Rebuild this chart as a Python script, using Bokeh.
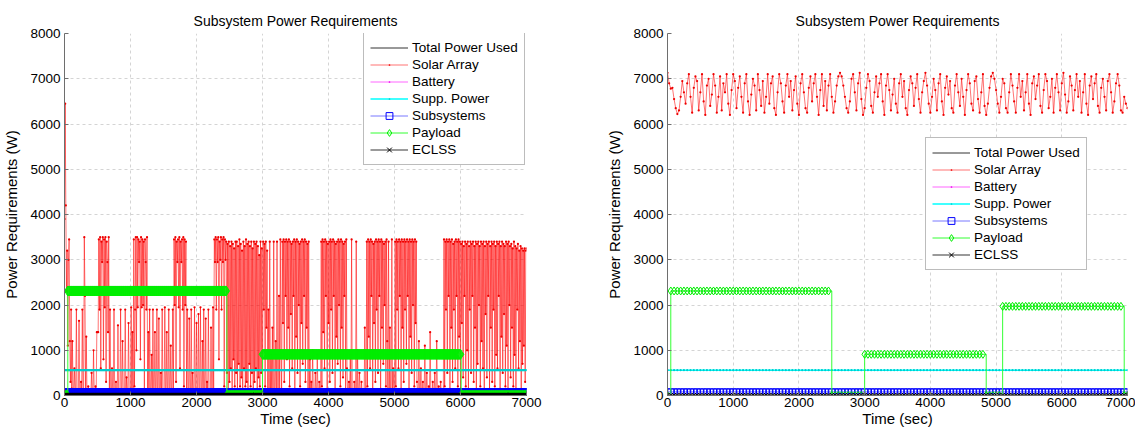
import numpy as np
from bokeh.plotting import figure
from bokeh.layouts import row
from bokeh.models import Legend, LegendItem, Range1d, FixedTicker
from bokeh.embed import file_html
from bokeh.resources import INLINE

# ---------------- data ----------------
title_text = "Subsystem Power Requirements"
x_label = "Time (sec)"
y_label = "Power Requirements (W)"
x_ticks = [0, 1000, 2000, 3000, 4000, 5000, 6000, 7000]
y_ticks = [0, 1000, 2000, 3000, 4000, 5000, 6000, 7000, 8000]

# left panel: solar array power, sampled every 10 s
step_left = 10
solar_left = [
    3900, 6450, 4200, 2300, 3200, 1100, 3000, 3450, 1200, 300,
    1900, 150, 1200, 80, 40, 600, 100, 60, 1900, 50,
    120, 60, 1650, 80, 40, 300, 60, 1900, 100, 40,
    3500, 2200, 60, 1300, 80, 40, 200, 60, 40, 100,
    60, 500, 40, 80, 1000, 60, 40, 200, 60, 1400,
    1400, 1400, 3450, 1900, 3500, 600, 3400, 2950, 3500, 800,
    3450, 1950, 3500, 300, 3400, 2950, 1400, 3500, 100, 1900,
    60, 40, 600, 100, 50, 1900, 80, 40, 300, 60,
    40, 1550, 60, 100, 40, 1900, 60, 40, 1200, 80,
    60, 40, 1900, 80, 400, 60, 40, 1600, 100, 60,
    40, 1950, 60, 1400, 80, 3450, 200, 1900, 3500, 1000,
    3500, 1950, 3450, 2950, 3400, 800, 3500, 1950, 3450, 2000,
    3400, 100, 3450, 2950, 1900, 3500, 60, 1400, 40, 1900,
    60, 40, 900, 80, 1900, 60, 40, 1400, 80, 60,
    1900, 40, 60, 1700, 80, 40, 500, 60, 1900, 100,
    40, 60, 1950, 80, 40, 1400, 60, 100, 1900, 40,
    60, 1100, 80, 40, 1900, 60, 3450, 2000, 3500, 300,
    3400, 2950, 3450, 1950, 3500, 600, 3400, 2950, 3450, 1900,
    3500, 200, 3450, 2000, 3400, 100, 1900, 60, 40, 1700,
    60, 40, 1900, 80, 500, 60, 40, 1950, 100, 60,
    1600, 40, 80, 1800, 60, 40, 1950, 100, 60, 1200,
    40, 1900, 60, 80, 1700, 40, 300, 60, 1900, 100,
    60, 40, 1500, 80, 60, 1950, 40, 3450, 2950, 3500,
    1900, 3450, 2950, 3500, 800, 3400, 3000, 3500, 1900, 3450,
    2950, 3500, 200, 3450, 3000, 3400, 500, 3350, 100, 3400,
    300, 3300, 600, 3400, 100, 3350, 800, 3250, 200, 3400,
    500, 3400, 100, 3300, 700, 3450, 200, 3350, 400, 3200,
    100, 3400, 600, 3300, 200, 3450, 300, 3350, 100, 3400,
    700, 3300, 200, 3400, 500, 3250, 100, 3400, 300, 3350,
    600, 3400, 100, 3300, 400, 3100, 200, 3400, 500, 3250,
    100, 3400, 1900, 3350, 200, 3400, 1500, 3200, 100, 1900,
    60, 3400, 40, 900, 60, 1500, 40, 3400, 80, 60,
    1200, 40, 3400, 60, 40, 2200, 80, 3450, 1000, 60,
    3400, 1600, 3450, 300, 3400, 2200, 3450, 800, 3400, 1500,
    3450, 200, 3400, 1800, 3350, 600, 3400, 2200, 3450, 100,
    3400, 1300, 3450, 500, 3400, 2000, 3350, 200, 3400, 1600,
    3450, 700, 3400, 2200, 3450, 300, 3400, 1500, 3350, 100,
    3400, 60, 800, 40, 300, 60, 1000, 40, 80, 60,
    500, 40, 60, 900, 40, 60, 300, 40, 80, 3400,
    200, 3450, 1400, 3400, 600, 3450, 2200, 3400, 100, 3350,
    1600, 3400, 300, 3450, 1900, 3400, 500, 3450, 2200, 3400,
    100, 3350, 1300, 3400, 700, 3450, 2000, 3400, 200, 3450,
    1500, 3400, 400, 3350, 2200, 3400, 100, 3450, 600, 60,
    40, 300, 60, 900, 40, 3450, 60, 80, 40, 300,
    60, 40, 3400, 60, 1000, 40, 80, 500, 40, 60,
    300, 40, 60, 80, 40, 1500, 60, 40, 3400, 200,
    3450, 1300, 3400, 600, 3450, 2200, 3400, 100, 3350, 1600,
    3400, 300, 3450, 1900, 3400, 500, 3450, 2200, 3400, 100,
    3450, 1500, 3400, 700, 3350, 2000, 3400, 200, 3450, 1200,
    60, 3400, 40, 1500, 60, 80, 3450, 40, 600, 60,
    40, 3400, 200, 3450, 1900, 3400, 600, 3450, 2200, 3400,
    100, 3450, 1500, 3400, 300, 3450, 1900, 3400, 700, 3450,
    2200, 3400, 100, 3450, 1300, 3400, 500, 3450, 2000, 3400,
    200, 3450, 1600, 3400, 300, 60, 40, 1200, 60, 40,
    600, 40, 60, 300, 40, 80, 1100, 40, 60, 500,
    40, 60, 200, 40, 1400, 60, 40, 80, 300, 40,
    60, 500, 40, 80, 1200, 60, 40, 200, 60, 40,
    300, 40, 60, 80, 40, 3450, 200, 3400, 1900, 3450,
    500, 3400, 2200, 3450, 100, 3400, 1500, 3450, 300, 3350,
    1900, 3400, 600, 3450, 2200, 3400, 200, 3450, 1300, 3400,
    100, 3350, 1600, 3400, 400, 3300, 2200, 3400, 200, 3350,
    1000, 3400, 100, 3300, 1900, 3400, 500, 3350, 2200, 3400,
    300, 3300, 1500, 3400, 100, 3350, 700, 3400, 2000, 3300,
    200, 3400, 1200, 3350, 600, 3400, 100, 3300, 1800, 3400,
    400, 3350, 2200, 3400, 100, 3300, 1500, 3400, 300, 3350,
    1900, 3400, 200, 3300, 900, 3400, 600, 3350, 2200, 3400,
    100, 3300, 1300, 3400, 500, 3350, 1800, 3300, 200, 3400,
    1100, 3350, 100, 3400, 2000, 3300, 400, 3350, 1500, 3250,
    200, 3400, 900, 3300, 100, 3250, 1900, 3350, 600, 3200,
    1200, 3300, 100, 3250, 700, 3200, 1100, 3250, 300, 3200,
    3250,
]

# right panel: solar array power, sampled every 25 s
step_right_solar = 25
solar_right = [
    7130, 6900, 6780, 6800, 6550, 6350, 6220, 6300, 6600, 6950,
    6700, 6450, 6900, 7100, 6600, 6250, 6800, 7050, 6950, 6300,
    6700, 7100, 6500, 6200, 6850, 7000, 6400, 6650, 7100, 6850,
    6250, 6600, 7050, 6300, 6900, 6700, 7100, 6450, 6200, 6750,
    7100, 6950, 6350, 6800, 7050, 6600, 6250, 6900, 7100, 6500,
    6200, 6650, 7000, 6850, 6300, 7100, 6750, 6400, 6950, 6250,
    6600, 7100, 6450, 6900, 7050, 6350, 6200, 6700, 7100, 6900,
    6500, 6250, 6850, 7100, 6600, 6950, 6300, 6750, 7050, 6450,
    6200, 6900, 7100, 6700, 6350, 6250, 6800, 7050, 6500, 6900,
    7100, 6600, 6200, 6750, 7100, 6400, 6950, 6300, 6850, 7100,
    6600, 6250, 6500, 6850, 7050, 7130, 7050, 6850, 6600, 6350,
    6250, 6500, 7000, 7100, 6700, 6300, 6900, 7130, 6550, 6200,
    6350, 6800, 7100, 6950, 6400, 6250, 6700, 7050, 6600, 6900,
    7100, 6500, 6200, 6850, 7100, 6750, 6300, 6650, 7000, 6450,
    6250, 6900, 7100, 6600, 6950, 6350, 6200, 6750, 7050, 6900,
    6400, 6800, 7100, 6550, 6250, 6700, 6950, 7130, 6850, 6450,
    6250, 6600, 7000, 6750, 6300, 6900, 7100, 6500, 6200, 6800,
    7050, 6650, 6950, 6350, 6250, 6850, 7100, 6700, 6400, 7000,
    6600, 6200, 6750, 7100, 6900, 6450, 6300, 6950, 7050, 6550,
    6250, 6700, 7100, 6400, 6200, 6450, 6800, 7050, 7130, 7000,
    6750, 6450, 6250, 6600, 7000, 6900, 6350, 6250, 6700, 7100,
    6850, 6500, 6250, 6800, 7100, 6600, 6950, 6300, 6700, 7100,
    6450, 6200, 6900, 7050, 6550, 6850, 7100, 6400, 6250, 6750,
    7100, 6950, 6350, 6600, 7000, 6250, 6800, 7100, 6700, 6300,
    6900, 7130, 6650, 6250, 6500, 7050, 6850, 6300, 6750, 7100,
    6600, 6950, 6250, 6700, 7100, 6450, 6200, 6850, 7050, 6550,
    6900, 7100, 6400, 6250, 6800, 7000, 6600, 6300, 6950, 7100,
    6700, 6250, 6500, 6900, 7100, 6850, 6300, 6250, 6600, 6450,
    6350,
]
step_right = 50
t_end = 7000

payload_left_edges = [0, 50, 2460, 3000, 6010]
payload_left_levels = [0, 2310, 0, 910, 0]
payload_right_edges = [0, 50, 2500, 3000, 4850, 5100, 6950]
payload_right_levels = [0, 2310, 0, 910, 0, 1970, 0]

total_used_level = 0
battery_level = 0
supp_power_level = 560
subsystems_level = 80
eclss_level = 10

FONT = "Liberation Sans"


def step_series(t, edges, levels):
    idx = np.searchsorted(np.array(edges), t, side="right") - 1
    return np.array(levels)[idx]


def make_panel(t_solar, solar, t_grid, pay_edges, pay_levels, width,
               border_left, border_right, legend_loc, diamond_size, square_size):
    p = figure(width=width, height=430, output_backend="svg", toolbar_location=None,
               x_range=Range1d(0, 7000), y_range=Range1d(0, 8000),
               min_border_left=border_left, min_border_right=border_right,
               min_border_top=33, min_border_bottom=35)
    p.title.text = title_text
    p.title.align = "center"
    p.title.text_font = FONT
    p.title.text_font_size = "14px"
    p.title.text_font_style = "normal"
    p.title.text_color = "black"
    p.title.standoff = 10
    p.outline_line_color = None
    p.background_fill_color = "white"

    for ax in (p.xaxis[0], p.yaxis[0]):
        ax.major_tick_in = 4
        ax.major_tick_out = 0
        ax.minor_tick_line_color = None
        ax.axis_line_color = "#6e6e6e"
        ax.major_tick_line_color = "#6e6e6e"
        ax.major_label_text_font = FONT
        ax.major_label_text_font_size = "13.5px"
        ax.major_label_text_color = "black"
        ax.axis_label_text_font = FONT
        ax.axis_label_text_font_size = "15px"
        ax.axis_label_text_font_style = "normal"
        ax.axis_label_text_color = "black"
    p.xaxis[0].major_label_standoff = 2
    p.yaxis[0].major_label_standoff = 4
    p.xaxis[0].ticker = FixedTicker(ticks=x_ticks)
    p.yaxis[0].ticker = FixedTicker(ticks=y_ticks)
    p.xaxis[0].axis_label = x_label
    p.yaxis[0].axis_label = y_label
    p.xaxis[0].axis_label_standoff = 0
    p.yaxis[0].axis_label_standoff = 7

    for g in (p.xgrid[0], p.ygrid[0]):
        g.grid_line_color = "#d4d4d4"
        g.grid_line_dash = "3 3"
        g.grid_line_width = 1

    n = len(t_grid)
    items = []

    r1 = p.line(t_grid, np.full(n, total_used_level), line_color="#333333", line_width=1)
    items.append(LegendItem(label="Total Power Used", renderers=[r1]))

    r2 = p.line(t_solar, solar, line_color="#ff0000", line_width=1, line_alpha=0.55)
    r2m = p.scatter(t_solar, solar, marker="dot", size=9, fill_color="#ee0000",
                    line_color="#ee0000")
    items.append(LegendItem(label="Solar Array", renderers=[r2, r2m]))

    r3 = p.line(t_grid, np.full(n, battery_level), line_color="#ff00ff", line_width=1, line_alpha=0.6)
    r3m = p.scatter(t_grid, np.full(n, battery_level), marker="dot", size=9,
                    fill_color="#ee00ee", line_color="#ee00ee")
    items.append(LegendItem(label="Battery", renderers=[r3, r3m]))

    r4 = p.line(t_grid, np.full(n, supp_power_level), line_color="#00ffff", line_width=1.5)
    r4m = p.scatter(t_grid, np.full(n, supp_power_level), marker="dot", size=9,
                    fill_color="#00cccc", line_color="#00cccc")
    items.append(LegendItem(label="Supp. Power", renderers=[r4, r4m]))

    r5 = p.line(t_grid, np.full(n, subsystems_level), line_color="#4040ff", line_width=1, line_alpha=0.7)
    r5m = p.scatter(t_grid, np.full(n, subsystems_level), marker="square", size=square_size,
                    fill_color=None, line_color="#0000ff", line_width=1)
    items.append(LegendItem(label="Subsystems", renderers=[r5, r5m]))

    pay = step_series(t_grid, pay_edges, pay_levels)
    r6 = p.step(t_grid, pay, mode="after", line_color="#33ff33", line_width=1)
    r6m = p.scatter(t_grid, pay, marker="diamond", size=diamond_size,
                    fill_color=None, line_color="#00ee00", line_width=1)
    items.append(LegendItem(label="Payload", renderers=[r6, r6m]))

    r7 = p.line(t_grid, np.full(n, eclss_level), line_color="#9a9a9a", line_width=2)
    r7m = p.scatter(t_grid, np.full(n, eclss_level), marker="x", size=6,
                    line_color="black", line_width=1)
    items.append(LegendItem(label="ECLSS", renderers=[r7, r7m]))

    leg = Legend(items=items, location=legend_loc)
    leg.label_text_font = FONT
    leg.label_text_font_size = "13.5px"
    leg.label_text_color = "black"
    leg.border_line_color = "#7a7a7a"
    leg.border_line_width = 1
    leg.background_fill_color = "white"
    leg.background_fill_alpha = 1
    leg.glyph_width = 38
    leg.glyph_height = 17
    leg.label_height = 17
    leg.spacing = 0
    leg.padding = 6
    leg.margin = 0
    leg.label_standoff = 4
    p.add_layout(leg, "center")
    return p


t_left = np.arange(len(solar_left)) * step_left
t_right_solar = np.arange(len(solar_right)) * step_right_solar
t_right = np.arange(0, t_end + 1, step_right)

p1 = make_panel(t_left, solar_left, t_left, payload_left_edges, payload_left_levels,
                width=570, border_left=64, border_right=44, legend_loc=(299, 230),
                diamond_size=10, square_size=6)
p2 = make_panel(t_right_solar, solar_right, t_right, payload_right_edges, payload_right_levels,
                width=565, border_left=97, border_right=8, legend_loc=(258, 125),
                diamond_size=8, square_size=6)

layout = row(p1, p2)
open("out.html", "w").write(file_html(layout, INLINE))
